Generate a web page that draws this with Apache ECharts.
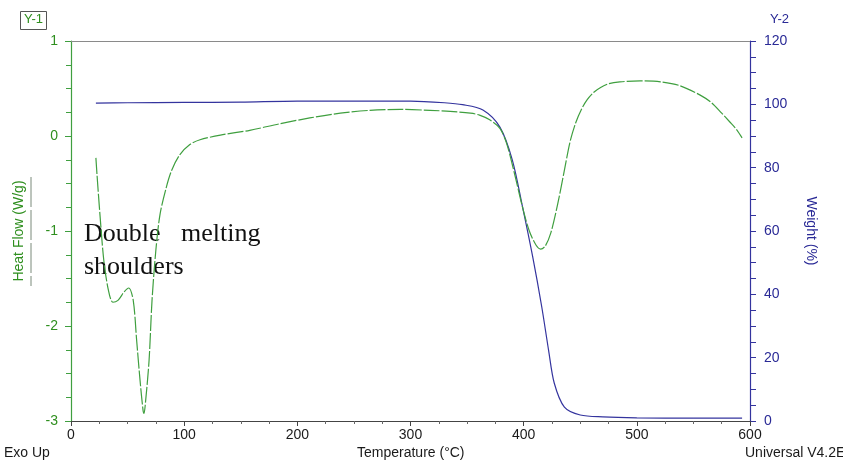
<!DOCTYPE html>
<html>
<head>
<meta charset="utf-8">
<script src="https://cdn.jsdelivr.net/npm/echarts@6/dist/echarts.min.js"></script>
<style>
  html, body { margin: 0; padding: 0; background: #fff; }
  #chart { width: 843px; height: 463px; }
</style>
</head>
<body>
<div id="chart"></div>
<script>
// Heat flow (W/g) against temperature (°C)
const heatTemp = [22, 23, 25.6, 29, 33, 37, 41.5, 47, 51, 55, 58, 61, 63.6, 64.5, 66, 69, 71.6, 75, 78.6, 84, 89, 96, 105, 114, 132, 158, 185, 211, 238, 264, 291, 317, 335, 353, 361, 370, 379, 385, 392, 399, 405, 411, 415, 419, 424, 430, 436, 441, 446, 451, 456, 462, 468, 475, 485, 503, 521, 538, 556, 566, 575, 582, 588, 593];
const heatFlow = [-0.23, -0.41, -0.83, -1.31, -1.62, -1.75, -1.73, -1.64, -1.60, -1.73, -2.15, -2.57, -2.88, -2.92, -2.78, -2.36, -1.73, -1.20, -0.83, -0.55, -0.36, -0.20, -0.09, -0.04, 0.01, 0.06, 0.13, 0.19, 0.24, 0.27, 0.28, 0.27, 0.26, 0.24, 0.22, 0.17, 0.08, -0.08, -0.40, -0.75, -1.00, -1.15, -1.19, -1.16, -1.02, -0.72, -0.36, -0.06, 0.14, 0.28, 0.38, 0.46, 0.51, 0.55, 0.57, 0.58, 0.57, 0.53, 0.43, 0.35, 0.24, 0.15, 0.07, -0.02];

// Weight (%) against temperature (°C)
const weightTemp = [22, 50, 100, 150, 200, 260, 300, 330, 346, 364, 379, 390, 399, 408, 416, 422, 427, 436, 450, 470, 500, 550, 593];
const weightPct = [100.4, 100.5, 100.6, 100.7, 101.0, 101.0, 101.0, 100.5, 99.9, 98.2, 92.8, 82.4, 67.6, 51.8, 36.0, 22.4, 12.0, 4.4, 1.9, 1.3, 1.0, 0.9, 0.9];

// Axis ranges and ticks
const tempRange = [0, 600, 100];
const heatRange = [-3, 1, 1];
const weightRange = [0, 120, 20];

const GREEN = '#3f9f3f';
const GREEN_TXT = '#2f8f1f';
const BLUE = '#34349e';
const BLUE_TXT = '#2a2a96';
const FONT = 'Liberation Sans, Arial, sans-serif';
const SERIF = '26px Liberation Serif, Times New Roman, serif';

const chart = echarts.init(document.getElementById('chart'), null, { renderer: 'canvas' });

const zip = (xs, ys) => xs.map((x, i) => [x, ys[i]]);

chart.setOption({
  backgroundColor: '#ffffff',
  animation: false,
  grid: { left: 71, right: 93, top: 41, bottom: 42, containLabel: false },
  xAxis: [
    {
      type: 'value', min: tempRange[0], max: tempRange[1], interval: tempRange[2],
      position: 'bottom',
      axisLine: { show: true, onZero: false, lineStyle: { color: '#444', width: 1.2 } },
      axisTick: { show: true, length: 5, lineStyle: { color: '#444' } },
      minorTick: { show: true, splitNumber: 4, length: 3, lineStyle: { color: '#666' } },
      axisLabel: { color: '#1a1a1a', fontSize: 14, fontFamily: FONT, margin: 7 },
      splitLine: { show: false }
    },
    {
      type: 'value', min: tempRange[0], max: tempRange[1], position: 'top',
      axisLine: { show: true, onZero: false, lineStyle: { color: '#8a8a8a', width: 1.2 } },
      axisTick: { show: false }, axisLabel: { show: false }, splitLine: { show: false }
    }
  ],
  yAxis: [
    {
      type: 'value', min: heatRange[0], max: heatRange[1], interval: heatRange[2],
      position: 'left',
      axisLine: { show: true, onZero: false, lineStyle: { color: GREEN, width: 1.2 } },
      axisTick: { show: true, length: 6, lineStyle: { color: GREEN } },
      minorTick: { show: true, splitNumber: 4, length: 5, lineStyle: { color: GREEN } },
      axisLabel: { color: GREEN_TXT, fontSize: 14, fontFamily: FONT, margin: 13 },
      splitLine: { show: false },
      name: 'Heat Flow (W/g)', nameLocation: 'middle', nameGap: 45, nameRotate: 90,
      nameTextStyle: { color: GREEN_TXT, fontSize: 14, fontFamily: FONT }
    },
    {
      type: 'value', min: weightRange[0], max: weightRange[1], interval: weightRange[2],
      position: 'right',
      axisLine: { show: true, onZero: false, lineStyle: { color: BLUE, width: 1.2 } },
      axisTick: { show: true, length: 6, lineStyle: { color: BLUE } },
      minorTick: { show: true, splitNumber: 4, length: 6, lineStyle: { color: BLUE } },
      axisLabel: { color: BLUE_TXT, fontSize: 14, fontFamily: FONT, margin: 14 },
      splitLine: { show: false },
      name: 'Weight (%)', nameLocation: 'middle', nameGap: 54, nameRotate: -90,
      nameTextStyle: { color: BLUE_TXT, fontSize: 14, fontFamily: FONT }
    }
  ],
  series: [
    {
      name: 'Heat Flow', type: 'line', xAxisIndex: 0, yAxisIndex: 0,
      data: zip(heatTemp, heatFlow), smooth: 0.3, showSymbol: false,
      lineStyle: { color: GREEN, width: 1.2, type: [16, 2] }, z: 3
    },
    {
      name: 'Weight', type: 'line', xAxisIndex: 0, yAxisIndex: 1,
      data: zip(weightTemp, weightPct), smooth: 0.3, showSymbol: false,
      lineStyle: { color: BLUE, width: 1.2 }, z: 2
    }
  ],
  graphic: [
    // axis set badges
    { type: 'rect', left: 20, top: 11, shape: { width: 26, height: 18 },
      style: { fill: '#fff', stroke: '#555', lineWidth: 1 } },
    { type: 'text', left: 24, top: 13, style: { text: 'Y-1', fill: GREEN_TXT, font: '13px ' + FONT } },
    { type: 'text', left: 770, top: 13, style: { text: 'Y-2', fill: BLUE_TXT, font: '13px ' + FONT } },
    // line-style key beside the heat-flow title
    { type: 'line', shape: { x1: 31, y1: 177, x2: 31, y2: 286 },
      style: { stroke: '#7a8a7a', lineWidth: 1, lineDash: [30, 3] } },
    // footer captions
    { type: 'text', left: 4, top: 446, style: { text: 'Exo Up', fill: '#1a1a1a', font: '14px ' + FONT } },
    { type: 'text', left: 357, top: 446, style: { text: 'Temperature (°C)', fill: '#1a1a1a', font: '14px ' + FONT } },
    { type: 'text', left: 745, top: 446, style: { text: 'Universal V4.2E', fill: '#1a1a1a', font: '14px ' + FONT } },
    // annotation
    { type: 'text', left: 84, top: 221, style: { text: 'Double', fill: '#111', font: SERIF } },
    { type: 'text', left: 181, top: 221, style: { text: 'melting', fill: '#111', font: SERIF } },
    { type: 'text', left: 84, top: 254, style: { text: 'shoulders', fill: '#111', font: SERIF } }
  ]
});
</script>
</body>
</html>
